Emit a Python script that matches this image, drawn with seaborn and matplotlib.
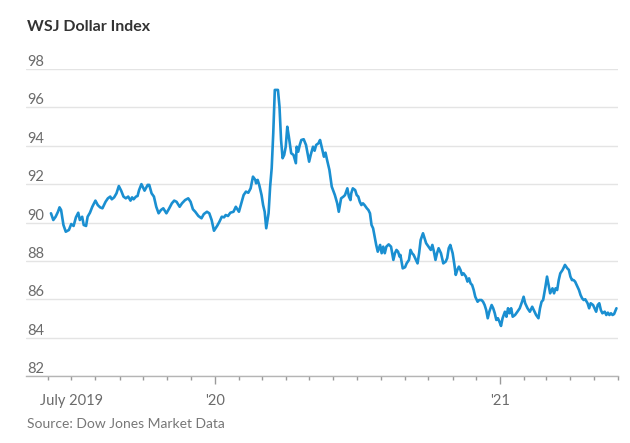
import matplotlib.pyplot as plt
import matplotlib.dates as mdates
import numpy as np
import pandas as pd
import seaborn as sns

# days counted from 2019-07-01
day_offsets = [
    -26, -23, -20, -17, -15, -13, -10, -7, -3, 0, 3, 6, 9, 11, 14, 16, 19, 21,
    24, 27, 31, 34, 37, 40, 44, 47, 50, 52, 55, 58, 61, 64, 67, 70, 73, 76, 78,
    80, 83, 85, 87, 90, 94, 98, 100, 103, 106, 109, 112, 115, 118, 122, 125,
    129, 132, 135, 139, 142, 146, 150, 153, 156, 159, 163, 167, 170, 174, 177,
    180, 183, 187, 190, 193, 196, 198, 201, 204, 208, 211, 215, 218,
    221, 224, 227, 230, 233, 236, 237, 239, 241, 244, 246, 248, 250, 253, 255,
    257, 259, 261, 265, 267, 269, 271, 273, 275, 277, 279, 282, 285, 288, 289,
    291, 293, 295, 298, 301, 303, 305, 307, 310, 312, 314, 317, 319, 322, 324,
    326, 328, 331, 334,
    338, 341, 343, 346, 349, 351, 354, 356, 358, 359, 361, 364, 366, 368, 370,
    372, 374, 376, 379, 381, 383, 385, 387, 389, 391, 393, 396, 398, 400, 402,
    404, 407, 410, 413, 415, 417, 419, 421, 422, 425, 428, 430, 433, 435, 437,
    439, 442, 444, 446, 448, 451, 453, 455, 458,
    461, 463, 465, 467, 469, 471, 474, 477, 480, 482, 484, 486, 489, 491, 493,
    495, 497, 499, 501, 503, 506, 508, 510, 512, 514, 516, 518, 521, 523, 526,
    528, 530, 532, 534, 536, 539, 541, 543, 545, 547, 549, 551, 553, 556, 558,
    560, 562, 564, 566, 569, 572, 575, 578, 580,
    582, 585, 588, 591, 593, 596, 599, 601, 603, 605, 608, 610, 612, 614, 617,
    619, 621, 623, 625, 627, 630, 633, 636, 638, 640, 642, 644, 646, 649, 651,
    653, 655, 657, 659, 662, 664, 666, 669, 671, 673, 675, 677, 679, 681, 684,
    686, 688, 690, 692, 694, 696, 699,
]

index_values = [
    90.48, 90.13, 90.30, 90.56, 90.79, 90.65, 89.87, 89.52, 89.61, 89.92, 89.82,
    90.27, 90.51, 90.13, 90.30, 89.87, 89.82, 90.30,
    90.51, 90.82, 91.14, 90.91, 90.79, 90.74, 91.08, 91.26, 91.35, 91.21, 91.31,
    91.52, 91.90, 91.66, 91.35, 91.26, 91.35, 91.14, 91.31,
    91.21, 91.35, 91.38, 91.69, 92.00, 91.66, 91.96, 91.96, 91.52, 91.35, 90.82,
    90.48, 90.65, 90.74, 90.48, 90.69,
    91.00, 91.14, 91.08, 90.82, 91.00, 91.17, 91.26, 91.08, 90.69, 90.56, 90.34,
    90.22, 90.44, 90.56, 90.48,
    90.13, 89.57, 89.82, 90.04, 90.30, 90.27, 90.39, 90.34, 90.51, 90.56, 90.82,
    90.56, 91.00,
    91.43, 91.61, 91.55, 91.78, 92.39, 92.22, 92.04, 92.22, 91.96, 91.43, 90.91,
    90.56, 89.70, 90.48, 91.87,
    92.83, 94.65, 96.91, 96.91, 96.04, 94.30, 93.35, 93.52, 93.95, 94.99, 94.47,
    93.61, 93.52, 93.09, 93.95,
    93.69, 94.04, 94.30, 94.34, 94.04, 93.61, 93.17, 93.52, 93.95, 93.74, 94.04,
    94.13, 94.30, 93.78, 93.43,
    93.64, 93.26, 92.74, 91.87,
    91.43, 91.00, 90.56, 91.26, 91.35, 91.43, 91.78, 91.35, 91.17, 91.52, 91.78,
    91.69, 91.43, 91.35, 91.08,
    90.91, 91.00, 90.91, 90.74, 90.65, 90.48, 89.87, 89.70, 89.26, 88.83, 88.48,
    88.83, 88.40, 88.74, 88.40,
    88.74, 88.86, 88.74, 88.05, 88.40, 88.57, 88.48, 88.22, 88.31, 87.61, 87.67,
    87.87, 88.05, 88.57, 88.40,
    88.31, 88.05, 87.87, 88.40, 89.09, 89.44, 89.18, 88.92, 88.74,
    88.57, 88.83, 88.48, 88.05, 88.40, 88.66, 88.40, 87.87, 87.96, 88.14, 88.66,
    88.83, 88.40, 87.87, 87.27,
    87.53, 87.70, 87.53, 87.27, 87.35, 87.18, 86.92, 87.09, 86.83, 86.74, 86.48,
    86.13, 85.87, 85.96, 85.96,
    85.87, 85.70, 85.44, 85.01, 85.35, 85.70, 85.53, 85.27, 84.92, 85.01, 84.83,
    84.61, 85.01, 85.35, 85.09,
    85.53, 85.27, 85.53, 85.09, 85.18, 85.35, 85.53, 85.87, 86.13,
    85.79, 85.53, 85.35, 85.61, 85.44, 85.18, 85.01, 85.53, 85.87, 85.96, 86.66,
    87.18, 86.74, 86.31, 86.57,
    86.31, 86.57, 86.48, 87.00, 87.35, 87.53, 87.79, 87.61, 87.53, 87.18, 87.00,
    87.00, 86.92, 86.66, 86.48,
    86.22, 86.05, 85.96, 86.00, 85.79, 85.53, 85.79, 85.70, 85.53, 85.35, 85.70,
    85.79, 85.44, 85.27, 85.35,
    85.18, 85.30, 85.18, 85.27, 85.18, 85.23, 85.53,
]

y_ticks = [82, 84, 86, 88, 90, 92, 94, 96, 98]
x_tick_dates = ['2019-07-01', '2020-01-01', '2021-01-01']
x_tick_labels = ['July 2019', "'20", "'21"]

start = pd.Timestamp('2019-07-01')
df = pd.DataFrame({
    'date': start + pd.to_timedelta(day_offsets, unit='D'),
    'value': index_values,
})

sns.set_style('white')
plt.rcParams['font.family'] = ['Lato', 'DejaVu Sans']

fig = plt.figure(figsize=(6.3, 4.43), dpi=100)
ax = fig.add_axes([26 / 630, 67 / 443, 592 / 630, 307 / 443])

sns.lineplot(data=df, x='date', y='value', color='#1a8fd1', linewidth=1.9, ax=ax)

ax.set_xlim(pd.Timestamp('2019-05-04'), pd.Timestamp('2021-06-01'))
ax.set_ylim(82, 98)
ax.set_xlabel('')
ax.set_ylabel('')

# y labels sit above the gridlines, at the left
ax.set_yticks(y_ticks)
ax.set_yticklabels([str(t) for t in y_ticks], ha='left', va='bottom',
                   color='#6b6b6b', fontsize=10.5)
ax.tick_params(axis='y', left=False, length=0, pad=-1)
ax.yaxis.grid(True, color='#e4e4e4', linewidth=1)
ax.set_axisbelow(True)

# x axis: monthly ticks, labels at July 2019 and the years
ax.set_xticks(pd.to_datetime(x_tick_dates))
ax.set_xticklabels(x_tick_labels, color='#6b6b6b', fontsize=10.5)
ax.xaxis.set_minor_locator(mdates.MonthLocator())
ax.tick_params(axis='x', which='major', bottom=True, length=6, width=1,
               color='#9a9a9a', direction='out', pad=7)
ax.tick_params(axis='x', which='minor', bottom=True, length=3, width=1,
               color='#9a9a9a', direction='out')
ax.xaxis.get_major_ticks()[0].tick1line.set_markersize(3)

for side in ['top', 'right', 'left']:
    ax.spines[side].set_visible(False)
ax.spines['bottom'].set_color('#b5b5b5')
ax.spines['bottom'].set_linewidth(1)

fig.text(27 / 630, 1 - 27 / 443, 'WSJ Dollar Index', fontsize=11.5,
         fontweight='bold', color='#333333', va='center')
fig.text(27 / 630, 1 - 424 / 443, 'Source: Dow Jones Market Data', fontsize=10,
         color='#777777', va='center')

fig.savefig('out.png', dpi=100)
